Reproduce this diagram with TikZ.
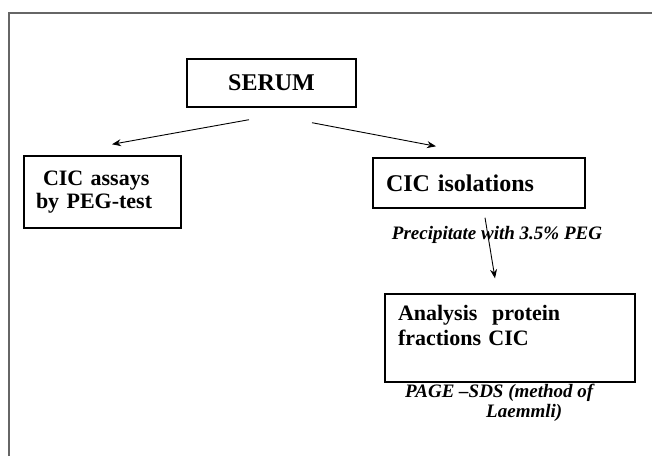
\documentclass[tikz,border=0pt]{standalone}
\usepackage{fontspec}
\setmainfont{Liberation Serif}
\usetikzlibrary{arrows.meta}
\tikzset{
  box/.style={draw, line width=1.4pt, font=\bfseries, inner ysep=0pt},
  lbl/.style={font=\fontsize{19}{20}\selectfont\bfseries\itshape, inner sep=0pt},
  arr/.style={-{Stealth[length=9pt, width=7pt]}, line width=0.9pt},
  frame/.style={draw=black!60, line width=1.2pt},
}

\begin{document}
\begin{tikzpicture}[x=1pt, y=-1pt]
  \useasboundingbox (0,0) rectangle (652,456);
  \draw[frame] (9,456) |- (652,13);
  % boxes
  \node[box, minimum width=169pt, minimum height=48pt,
        font=\fontsize{24}{26}\selectfont\bfseries] (serum) at (271.5,83) {SERUM};
  \node[box, inner xsep=12pt, text width=133pt, minimum height=72pt, align=left,
        font=\fontsize{22}{23}\selectfont\bfseries] (assays) at (102.5,192)
        {\hspace*{7pt}CIC assays\\by PEG-test};
  \node[box, inner xsep=13pt, text width=186pt, minimum height=50pt, align=left,
        font=\fontsize{24}{26}\selectfont\bfseries] (isol) at (479,183) {CIC isolations};
  \node[box, inner xsep=13pt, text width=224pt, minimum height=88pt, align=left,
        font=\fontsize{22}{25}\selectfont\bfseries] (analysis) at (510,338)
        {Analysis\ \ protein\\fractions CIC\\\mbox{}};
  % labels
  \node[lbl] (prec) at (497,235) {Precipitate with 3.5\% PEG};
  \node[lbl, anchor=west, align=left] (page) at (405,403)
        {PAGE --SDS (method of\\\hspace*{81pt}Laemmli)};
  % arrows
  \draw[arr] ([xshift=-22.5pt, yshift=-12pt]serum.south) -- ([xshift=9.5pt, yshift=11pt]assays.north);
  \draw[arr] ([xshift=40.5pt, yshift=-15pt]serum.south) -- ([xshift=-43pt, yshift=11pt]isol.north);
  \draw[arr] ([xshift=6pt, yshift=-9pt]isol.south) -- ([xshift=-15pt, yshift=15pt]analysis.north);
\end{tikzpicture}
\end{document}
